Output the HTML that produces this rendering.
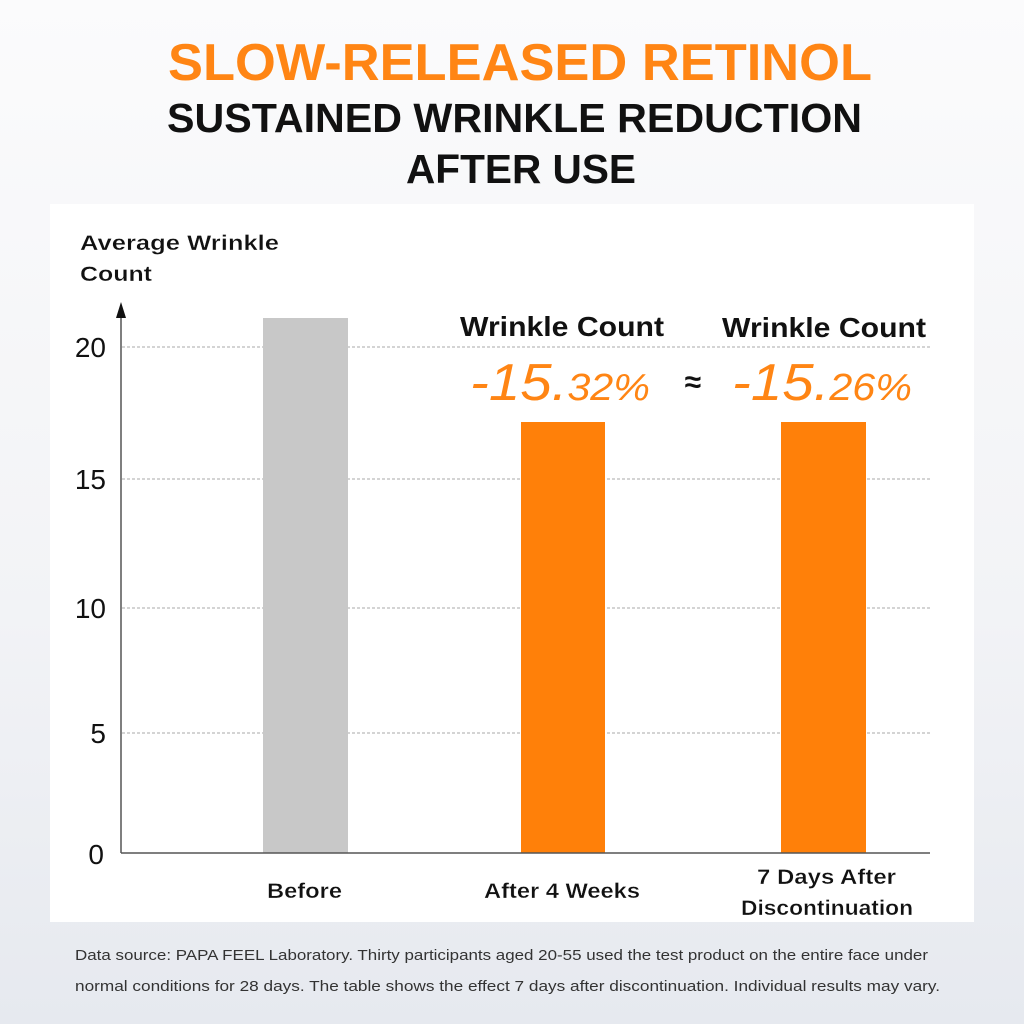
<!DOCTYPE html>
<html><head><style>
body{margin:0;width:1024px;height:1024px;overflow:hidden;background:linear-gradient(#fbfbfc 0%,#f2f3f6 60%,#e6e9ef 100%);font-family:"Liberation Sans",sans-serif;position:relative}
.p{position:absolute;left:50px;top:204px;width:924px;height:718px;background:#fff}
.a{position:absolute}
</style></head><body>
<div class="p"></div>
<svg class="a" style="left:0;top:0" width="1024" height="1024">
<g font-family="Liberation Sans" font-weight="bold">
<text x="168" y="80" font-size="52" fill="#ff8514" textLength="704" lengthAdjust="spacingAndGlyphs">SLOW-RELEASED RETINOL</text>
<text x="167" y="132" font-size="41" fill="#111" textLength="695" lengthAdjust="spacingAndGlyphs">SUSTAINED WRINKLE REDUCTION</text>
<text x="406" y="183" font-size="41" fill="#111" textLength="230" lengthAdjust="spacingAndGlyphs">AFTER USE</text>
</g>
<g stroke="#aaa" stroke-width="1" stroke-dasharray="3,2">
<line x1="122" y1="347" x2="930" y2="347"/><line x1="122" y1="479" x2="930" y2="479"/>
<line x1="122" y1="608" x2="930" y2="608"/><line x1="122" y1="733" x2="930" y2="733"/>
</g>
<rect x="263" y="318" width="85" height="535" fill="#c8c8c8"/>
<rect x="521" y="422" width="84" height="431" fill="#ff8009"/>
<rect x="781" y="422" width="85" height="431" fill="#ff8009"/>
<line x1="121" y1="312" x2="121" y2="853" stroke="#555" stroke-width="1.5"/>
<line x1="121" y1="853" x2="930" y2="853" stroke="#555" stroke-width="1.5"/>
<polygon points="121,302 116,318 126,318" fill="#111"/>
<g font-family="Liberation Sans" font-size="28" fill="#111" text-anchor="end">
<text x="106" y="357">20</text><text x="106" y="489">15</text><text x="106" y="618">10</text><text x="106" y="743">5</text><text x="104" y="864">0</text>
</g>
<g font-family="Liberation Sans" font-size="21" fill="#111" font-weight="bold" stroke="#fff" stroke-width="0.3">
<text x="80" y="250" textLength="199" lengthAdjust="spacingAndGlyphs">Average Wrinkle</text><text x="80" y="281" textLength="72" lengthAdjust="spacingAndGlyphs">Count</text>
<text x="267" y="898" textLength="75" lengthAdjust="spacingAndGlyphs">Before</text>
<text x="484" y="898" textLength="156" lengthAdjust="spacingAndGlyphs">After 4 Weeks</text>
<text x="757" y="884" textLength="139" lengthAdjust="spacingAndGlyphs">7 Days After</text>
<text x="741" y="915" textLength="172" lengthAdjust="spacingAndGlyphs">Discontinuation</text>
</g>
<g font-family="Liberation Sans" font-weight="bold" font-size="28" fill="#111">
<text x="460" y="336" textLength="204" lengthAdjust="spacingAndGlyphs">Wrinkle Count</text><text x="722" y="337" textLength="204" lengthAdjust="spacingAndGlyphs">Wrinkle Count</text>
<text x="693" y="392" font-size="30" text-anchor="middle">≈</text>
</g>
<g font-family="Liberation Sans" font-style="italic" fill="#ff8514">
<text x="470" y="400" font-size="52" textLength="180" lengthAdjust="spacingAndGlyphs">-15.<tspan font-size="38">32%</tspan></text>
<text x="732" y="400" font-size="52" textLength="180" lengthAdjust="spacingAndGlyphs">-15.<tspan font-size="38">26%</tspan></text>
</g>
<g font-family="Liberation Sans" font-size="15" fill="#333">
<text x="75" y="960" textLength="853" lengthAdjust="spacingAndGlyphs">Data source: PAPA FEEL Laboratory. Thirty participants aged 20-55 used the test product on the entire face under</text>
<text x="75" y="991" textLength="865" lengthAdjust="spacingAndGlyphs">normal conditions for 28 days. The table shows the effect 7 days after discontinuation. Individual results may vary.</text>
</g>
</svg>
</body></html>
